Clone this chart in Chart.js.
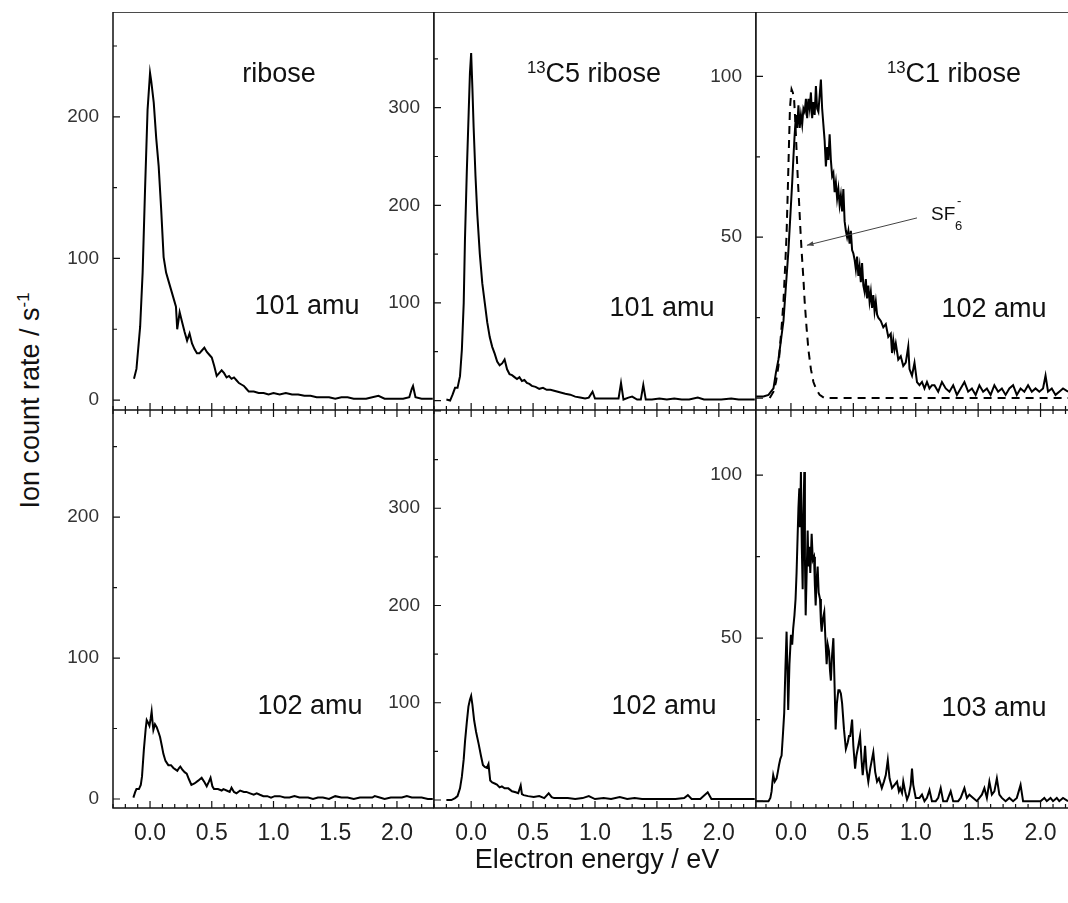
<!DOCTYPE html>
<html>
<head>
<meta charset="utf-8">
<title>Ion yield of ribose isotopologues</title>
<script src="https://cdn.jsdelivr.net/npm/chart.js@4.4.1/dist/chart.umd.min.js"></script>
<style>
  body { margin: 0; width: 1068px; height: 903px; overflow: hidden; position: relative; background: #fff;
         font-family: "Liberation Sans", Arial, sans-serif; }
  canvas { position: absolute; }
  .txt { position: absolute; white-space: nowrap; color: #111; line-height: 1; }
  .big { font-size: 27px; width: 200px; text-align: center; }
  sup { font-size: 0.62em; vertical-align: 0.55em; line-height: 0; }
</style>
</head>
<body>
<canvas id="pA"></canvas>
<canvas id="pB"></canvas>
<canvas id="pC"></canvas>
<canvas id="pD"></canvas>
<canvas id="pE"></canvas>
<canvas id="pF"></canvas>

<div class="txt big" style="left:179px;top:60px">ribose</div>
<div class="txt big" style="left:494px;top:60px"><sup>13</sup>C5 ribose</div>
<div class="txt big" style="left:854px;top:60px"><sup>13</sup>C1 ribose</div>
<div class="txt big" style="left:207px;top:292px">101 amu</div>
<div class="txt big" style="left:562px;top:294px">101 amu</div>
<div class="txt big" style="left:894px;top:295px">102 amu</div>
<div class="txt big" style="left:210px;top:692px">102 amu</div>
<div class="txt big" style="left:564px;top:692px">102 amu</div>
<div class="txt big" style="left:894px;top:694px">103 amu</div>

<div class="txt" style="left:931px;top:204px;font-size:19px">SF</div>
<div class="txt" style="left:955px;top:219px;font-size:13px">6</div>
<div class="txt" style="left:957px;top:194px;font-size:13px">-</div>

<div class="txt" style="left:397px;top:846px;width:400px;text-align:center;font-size:27px">Electron energy / eV</div>
<div class="txt" style="left:-120px;top:387px;width:300px;text-align:center;font-size:27px;transform:rotate(-90deg)">Ion count rate / s<sup>-1</sup></div>

<script>
// --- data: [electron energy (eV), ion count rate (1/s)] ---
const ribose101 = [
  [-0.13, 15], [-0.11, 22], [-0.08, 52], [-0.06, 90], [-0.04, 150], [-0.02, 205], [0.0, 231], [0.01, 225],
  [0.03, 210], [0.05, 185], [0.07, 165], [0.09, 135], [0.11, 101], [0.13, 90], [0.15, 84], [0.17, 78],
  [0.19, 72], [0.21, 66], [0.22, 50], [0.24, 62], [0.26, 55], [0.28, 48], [0.30, 42], [0.32, 47],
  [0.34, 40], [0.36, 36], [0.38, 33], [0.40, 33], [0.42, 35], [0.44, 37], [0.46, 34], [0.48, 32],
  [0.50, 30], [0.52, 24], [0.54, 17], [0.56, 19], [0.58, 21], [0.60, 19], [0.62, 16], [0.64, 17],
  [0.66, 15], [0.68, 16], [0.70, 14], [0.72, 12], [0.74, 11], [0.76, 10], [0.78, 8], [0.80, 6],
  [0.84, 6], [0.88, 5], [0.92, 5], [0.96, 4], [1.00, 5], [1.05, 4], [1.10, 5], [1.15, 4], [1.20, 4],
  [1.25, 3], [1.30, 3], [1.35, 2], [1.40, 2], [1.45, 2], [1.50, 1], [1.55, 2], [1.60, 2], [1.65, 1],
  [1.70, 1], [1.75, 1], [1.80, 2], [1.85, 3], [1.90, 1], [1.95, 1], [2.00, 1], [2.05, 1], [2.10, 2],
  [2.12, 8], [2.13, 10], [2.15, 2], [2.20, 1], [2.25, 1], [2.29, 1]
];
const c5ribose101 = [
  [-0.20, 1], [-0.17, 0], [-0.15, 6], [-0.13, 13], [-0.11, 13], [-0.09, 25], [-0.075, 52], [-0.06, 100],
  [-0.05, 165], [-0.035, 235], [-0.02, 295], [-0.01, 335], [0.0, 356], [0.01, 320], [0.02, 280],
  [0.035, 230], [0.05, 190], [0.07, 150], [0.09, 120], [0.11, 100], [0.13, 80], [0.15, 65], [0.17, 55],
  [0.19, 48], [0.21, 40], [0.23, 36], [0.25, 38], [0.27, 42], [0.29, 32], [0.31, 27], [0.33, 26],
  [0.35, 24], [0.37, 22], [0.39, 24], [0.41, 20], [0.43, 21], [0.45, 18], [0.47, 17], [0.49, 15],
  [0.52, 14], [0.55, 12], [0.58, 13], [0.61, 11], [0.64, 11], [0.67, 10], [0.70, 9], [0.73, 8],
  [0.76, 7], [0.80, 6], [0.84, 4], [0.88, 3], [0.92, 2], [0.95, 3], [0.98, 9], [1.00, 2], [1.05, 2],
  [1.10, 2], [1.15, 2], [1.19, 2], [1.21, 18], [1.23, 1], [1.27, 3], [1.30, 4], [1.34, 1], [1.37, 1],
  [1.39, 16], [1.41, 1], [1.46, 1], [1.52, 2], [1.58, 1], [1.64, 2], [1.70, 1], [1.76, 1], [1.83, 3],
  [1.88, 1], [1.95, 1], [2.02, 1], [2.10, 2], [2.16, 1], [2.22, 1], [2.29, 1]
];
const c1ribose102 = [
  [-0.28, 0.5], [-0.22, 0.5], [-0.18, 1], [-0.16, 2], [-0.14, 3], [-0.12, 8], [-0.10, 12], [-0.08, 18],
  [-0.06, 24], [-0.04, 35], [-0.02, 46], [0.0, 60], [0.01, 67], [0.02, 75], [0.03, 82], [0.04, 88],
  [0.05, 84], [0.06, 91], [0.07, 84], [0.08, 88], [0.09, 85], [0.10, 90], [0.11, 89], [0.12, 93],
  [0.13, 87], [0.14, 93], [0.15, 90], [0.16, 95], [0.17, 87], [0.18, 92], [0.19, 88], [0.20, 97],
  [0.21, 90], [0.22, 89], [0.23, 94], [0.24, 99], [0.25, 90], [0.26, 85], [0.27, 80], [0.28, 72],
  [0.29, 78], [0.30, 74], [0.31, 82], [0.32, 74], [0.33, 69], [0.34, 70], [0.35, 64], [0.36, 67],
  [0.37, 62], [0.38, 65], [0.39, 60], [0.40, 63], [0.41, 58], [0.42, 65], [0.43, 55], [0.44, 52],
  [0.45, 50], [0.46, 52], [0.47, 48], [0.48, 52], [0.49, 46], [0.50, 45], [0.51, 43], [0.52, 40],
  [0.53, 44], [0.54, 38], [0.55, 41], [0.56, 36], [0.57, 42], [0.58, 35], [0.59, 33], [0.60, 37],
  [0.61, 31], [0.62, 35], [0.63, 30], [0.64, 33], [0.65, 28], [0.66, 32], [0.67, 27], [0.68, 30],
  [0.69, 26], [0.70, 25], [0.72, 24], [0.74, 22], [0.76, 23], [0.78, 19], [0.80, 20], [0.81, 14],
  [0.82, 18], [0.83, 15], [0.84, 17], [0.86, 12], [0.88, 13], [0.90, 10], [0.92, 11], [0.94, 16],
  [0.95, 9], [0.96, 8], [0.97, 7], [0.99, 11], [1.01, 5], [1.03, 4], [1.05, 5], [1.07, 3], [1.09, 5],
  [1.11, 3], [1.13, 4], [1.15, 4], [1.18, 2], [1.21, 5], [1.24, 3], [1.27, 2], [1.30, 4], [1.33, 1],
  [1.36, 3], [1.39, 5], [1.42, 2], [1.45, 3], [1.48, 1], [1.51, 4], [1.54, 2], [1.57, 3], [1.60, 1],
  [1.63, 4], [1.66, 2], [1.69, 3], [1.72, 1], [1.75, 3], [1.78, 4], [1.81, 1], [1.84, 3], [1.87, 2],
  [1.90, 4], [1.93, 2], [1.96, 3], [1.99, 2], [2.02, 3], [2.04, 7], [2.06, 2], [2.09, 3], [2.12, 1],
  [2.15, 2], [2.18, 3], [2.22, 2]
];
const sf6Ref = [
  [-0.17, 0], [-0.14, 2], [-0.12, 5], [-0.10, 10], [-0.09, 15], [-0.075, 22], [-0.06, 30], [-0.045, 42],
  [-0.035, 51], [-0.025, 65], [-0.015, 80], [-0.008, 90], [0.0, 94], [0.005, 96], [0.015, 95],
  [0.025, 93], [0.035, 86], [0.045, 77], [0.055, 68], [0.065, 61], [0.075, 53], [0.085, 46],
  [0.10, 37], [0.11, 30], [0.125, 22], [0.14, 15], [0.16, 9], [0.18, 5], [0.20, 3], [0.23, 1],
  [0.27, 0], [0.5, 0], [1.0, 0], [1.5, 0], [2.0, 0], [2.22, 0]
];
const ribose102 = [
  [-0.135, 1], [-0.12, 5], [-0.11, 7], [-0.09, 7], [-0.075, 10], [-0.065, 16], [-0.05, 35], [-0.035, 50],
  [-0.027, 56], [-0.015, 54], [-0.005, 52], [0.005, 57], [0.013, 62], [0.02, 55], [0.027, 49],
  [0.04, 53], [0.054, 51], [0.07, 47], [0.081, 44], [0.095, 38], [0.108, 32], [0.125, 27], [0.148, 24],
  [0.17, 24], [0.189, 22], [0.205, 21], [0.221, 20], [0.235, 22], [0.245, 23], [0.26, 21], [0.28, 19],
  [0.297, 18], [0.315, 14], [0.335, 10], [0.36, 11], [0.39, 13], [0.418, 15], [0.44, 12], [0.459, 9],
  [0.475, 12], [0.49, 15], [0.505, 9], [0.518, 7], [0.55, 7], [0.58, 6], [0.594, 7], [0.62, 6],
  [0.645, 5], [0.66, 8], [0.68, 5], [0.70, 4], [0.73, 6], [0.76, 5], [0.78, 5], [0.81, 4], [0.84, 3],
  [0.864, 4], [0.89, 3], [0.918, 2], [0.95, 2], [0.98, 1], [1.01, 2], [1.05, 2], [1.09, 1], [1.13, 1],
  [1.17, 2], [1.21, 1], [1.24, 1], [1.28, 1], [1.32, 0], [1.36, 1], [1.40, 1], [1.45, 0], [1.50, 2],
  [1.55, 1], [1.60, 1], [1.65, 0], [1.70, 1], [1.75, 1], [1.80, 1], [1.82, 2], [1.86, 1], [1.90, 0],
  [1.95, 1], [2.00, 1], [2.04, 1], [2.08, 2], [2.12, 1], [2.16, 1], [2.20, 1], [2.25, 0], [2.29, 0]
];
const c5ribose102 = [
  [-0.20, 0], [-0.16, 0], [-0.13, 2], [-0.11, 4], [-0.09, 12], [-0.075, 24], [-0.06, 42], [-0.049, 61],
  [-0.035, 80], [-0.022, 96], [-0.01, 103], [0.0, 107], [0.01, 98], [0.024, 82], [0.04, 70], [0.06, 58],
  [0.08, 45], [0.095, 36], [0.11, 34], [0.127, 33], [0.14, 37], [0.154, 20], [0.17, 18], [0.19, 17],
  [0.208, 16], [0.23, 13], [0.248, 14], [0.27, 12], [0.30, 12], [0.33, 9], [0.36, 8], [0.38, 7],
  [0.40, 15], [0.41, 6], [0.424, 5], [0.46, 4], [0.505, 3], [0.55, 4], [0.59, 2], [0.626, 7], [0.65, 3],
  [0.67, 2], [0.72, 2], [0.78, 2], [0.84, 1], [0.90, 2], [0.95, 4], [1.00, 1], [1.07, 2], [1.13, 1],
  [1.20, 3], [1.26, 1], [1.32, 2], [1.38, 1], [1.45, 1], [1.52, 1], [1.58, 1], [1.65, 1], [1.72, 2],
  [1.75, 5], [1.78, 1], [1.85, 1], [1.91, 8], [1.94, 1], [2.00, 1], [2.08, 1], [2.15, 1], [2.22, 1],
  [2.29, 1]
];
const c1ribose103 = [
  [-0.28, 0], [-0.18, 0], [-0.165, 1], [-0.155, 3], [-0.148, 6], [-0.142, 8], [-0.13, 6], [-0.115, 7],
  [-0.105, 9], [-0.096, 11], [-0.085, 13], [-0.075, 14], [-0.065, 20], [-0.054, 27], [-0.045, 40],
  [-0.035, 52], [-0.028, 40], [-0.022, 28], [-0.012, 42], [0.0, 51], [0.01, 48], [0.018, 53],
  [0.028, 57], [0.037, 62], [0.045, 70], [0.054, 82], [0.06, 90], [0.067, 96], [0.072, 84], [0.08, 101],
  [0.087, 78], [0.094, 65], [0.10, 88], [0.107, 101], [0.112, 75], [0.118, 57], [0.126, 70], [0.134, 83],
  [0.14, 72], [0.147, 78], [0.155, 70], [0.166, 82], [0.175, 74], [0.185, 75], [0.192, 66], [0.198, 60],
  [0.206, 68], [0.214, 72], [0.222, 64], [0.233, 62], [0.24, 55], [0.246, 52], [0.256, 56], [0.267, 58],
  [0.276, 50], [0.286, 42], [0.295, 48], [0.305, 46], [0.313, 40], [0.32, 37], [0.328, 44], [0.34, 50],
  [0.35, 35], [0.358, 22], [0.368, 30], [0.38, 34], [0.39, 34], [0.40, 33], [0.41, 30], [0.425, 22],
  [0.44, 16], [0.455, 18], [0.465, 20], [0.475, 20], [0.49, 25], [0.50, 17], [0.514, 10], [0.525, 14],
  [0.54, 17], [0.554, 20], [0.565, 13], [0.575, 8], [0.585, 12], [0.594, 17], [0.605, 10], [0.62, 6],
  [0.635, 10], [0.66, 15], [0.675, 9], [0.69, 6], [0.705, 7], [0.728, 4], [0.745, 6], [0.76, 8],
  [0.776, 12.6], [0.79, 7], [0.81, 4], [0.83, 5], [0.85, 6], [0.865, 3], [0.875, 4], [0.89, 2.5],
  [0.90, 6], [0.915, 3], [0.93, 0.5], [0.945, 2], [0.96, 5], [0.97, 10], [0.98, 5], [1.0, 1], [1.03, 1],
  [1.05, 2], [1.07, 0], [1.09, 1], [1.11, 3.4], [1.13, 0], [1.16, 0], [1.18, 1], [1.20, 4], [1.22, 0],
  [1.25, 0], [1.28, 3], [1.30, 0], [1.34, 0], [1.36, 1], [1.39, 4], [1.41, 1], [1.43, 2], [1.46, 1],
  [1.49, 0], [1.51, 1], [1.53, 2], [1.55, 4], [1.57, 1], [1.59, 6], [1.61, 2], [1.63, 3], [1.65, 7],
  [1.67, 2], [1.69, 1], [1.72, 0], [1.75, 1], [1.78, 0], [1.81, 1], [1.84, 5], [1.86, 0], [1.90, 0],
  [1.95, 0], [2.00, 0], [2.03, 1], [2.05, 0], [2.08, 1], [2.10, 0], [2.13, 1], [2.15, 0], [2.18, 1],
  [2.22, 0]
];

// tick labels
const energyTicks = [0, 0.5, 1.0, 1.5, 2.0];
const yTicksRibose = [0, 100, 200];
const yTicksC5 = [100, 200, 300];
const yTicksC1 = [50, 100];

// arrow pointing at the SF6- reference curve (data units of panel C)
const sf6Arrow = { from: [1.01, 56], to: [0.128, 47.5] };

Chart.defaults.font.family = '"Liberation Sans", Arial, sans-serif';

// frame + inward tick marks, in the style of the original plot
const frameTicks = {
  id: 'frameTicks',
  afterDatasetsDraw(chart, args, o) {
    const { ctx, chartArea: a, scales: { x, y } } = chart;
    const steps = (min, max, minor, major) => {
      const out = [];
      for (let k = Math.ceil(min / minor - 1e-9); k * minor <= max + 1e-9; k++) {
        const v = k * minor;
        out.push({ v, major: Math.abs(v / major - Math.round(v / major)) < 1e-6 });
      }
      return out;
    };
    ctx.save();
    ctx.strokeStyle = '#111';
    ctx.lineWidth = 1.5;
    ctx.beginPath();
    ctx.moveTo(a.right, a.top); ctx.lineTo(a.left, a.top);
    ctx.lineTo(a.left, a.bottom); ctx.lineTo(a.right, a.bottom);
    if (o.rightEdge) ctx.lineTo(a.right, a.top);
    ctx.stroke();

    ctx.lineWidth = 1.2;
    ctx.beginPath();
    steps(x.min, x.max, 0.1, 0.5).forEach(t => {
      const px = x.getPixelForValue(t.v), len = t.major ? 7 : 4;
      ctx.moveTo(px, a.bottom); ctx.lineTo(px, a.bottom - len);
      if (o.topTicks) { ctx.moveTo(px, a.top); ctx.lineTo(px, a.top + len); }
    });
    steps(y.min, y.max, o.yMinor, o.yMinor * 2).forEach(t => {
      const py = y.getPixelForValue(t.v), len = t.major ? 7 : 4;
      ctx.moveTo(a.left, py); ctx.lineTo(a.left + len, py);
    });
    ctx.stroke();

    if (o.arrow) {
      const x0 = x.getPixelForValue(o.arrow.from[0]), y0 = y.getPixelForValue(o.arrow.from[1]);
      const x1 = x.getPixelForValue(o.arrow.to[0]), y1 = y.getPixelForValue(o.arrow.to[1]);
      const ang = Math.atan2(y1 - y0, x1 - x0);
      ctx.strokeStyle = '#444';
      ctx.fillStyle = '#444';
      ctx.lineWidth = 1;
      ctx.beginPath(); ctx.moveTo(x0, y0); ctx.lineTo(x1, y1); ctx.stroke();
      ctx.beginPath();
      ctx.moveTo(x1, y1);
      ctx.lineTo(x1 - 7 * Math.cos(ang - 0.35), y1 - 7 * Math.sin(ang - 0.35));
      ctx.lineTo(x1 - 7 * Math.cos(ang + 0.35), y1 - 7 * Math.sin(ang + 0.35));
      ctx.closePath(); ctx.fill();
    }
    ctx.restore();
  }
};

const toPts = arr => arr.map(([e, v]) => ({ x: e, y: v }));
const solid = arr => ({ data: toPts(arr), borderColor: '#000', borderWidth: 2, pointRadius: 0, tension: 0 });

// panel layout: plot-area box [left, top, right, bottom] in page pixels
const panels = [
  { id: 'pA', box: [113, 12, 434, 410], bottom: false, x: [-0.3, 2.3], y: [-7, 274], yTicks: yTicksRibose, yMinor: 50,
    sets: [solid(ribose101)] },
  { id: 'pB', box: [434, 12, 756, 410], bottom: false, x: [-0.3, 2.3], y: [-9.7, 398], yTicks: yTicksC5, yMinor: 50,
    sets: [solid(c5ribose101)] },
  { id: 'pC', box: [756, 12, 1068, 410], bottom: false, x: [-0.28, 2.22], y: [-3.7, 120], yTicks: yTicksC1, yMinor: 25,
    sets: [solid(c1ribose102), { ...solid(sf6Ref), borderDash: [8, 6] }], arrow: sf6Arrow, open: true },
  { id: 'pD', box: [113, 410, 434, 808], bottom: true, x: [-0.3, 2.3], y: [-6.4, 276], yTicks: yTicksRibose, yMinor: 50,
    sets: [solid(ribose102)] },
  { id: 'pE', box: [434, 410, 756, 808], bottom: true, x: [-0.3, 2.3], y: [-8.2, 401], yTicks: yTicksC5, yMinor: 50,
    sets: [solid(c5ribose102)] },
  { id: 'pF', box: [756, 410, 1068, 808], bottom: true, x: [-0.28, 2.22], y: [-2.1, 120], yTicks: yTicksC1, yMinor: 25,
    sets: [solid(c1ribose103)], open: true }
];

const Y_GUTTER = 60, X_GUTTER = 60;

panels.forEach(p => {
  const [l, t, r, b] = p.box;
  const cv = document.getElementById(p.id);
  cv.width = (r - l) + Y_GUTTER;
  cv.height = (b - t) + (p.bottom ? X_GUTTER : 0);
  cv.style.left = (l - Y_GUTTER) + 'px';
  cv.style.top = t + 'px';

  new Chart(cv, {
    type: 'line',
    data: { datasets: p.sets },
    plugins: [frameTicks],
    options: {
      responsive: false,
      animation: false,
      layout: { padding: 0 },
      plugins: {
        legend: { display: false },
        tooltip: { enabled: false },
        frameTicks: { yMinor: p.yMinor, topTicks: p.bottom, rightEdge: !p.open, arrow: p.arrow }
      },
      scales: {
        x: {
          type: 'linear', min: p.x[0], max: p.x[1],
          grid: { display: false }, border: { display: false },
          ticks: { display: p.bottom, color: '#222', font: { size: 23 }, padding: 4, maxRotation: 0,
                   callback: v => v.toFixed(1) },
          afterBuildTicks: s => { s.ticks = energyTicks.map(v => ({ value: v })); },
          afterFit: s => { s.height = p.bottom ? X_GUTTER : 0; s.paddingLeft = 0; s.paddingRight = 0; }
        },
        y: {
          min: p.y[0], max: p.y[1],
          grid: { display: false }, border: { display: false },
          ticks: { color: '#333', font: { size: 19 }, padding: 6, callback: v => String(v) },
          afterBuildTicks: s => { s.ticks = p.yTicks.map(v => ({ value: v })); },
          afterFit: s => { s.width = Y_GUTTER; s.paddingTop = 0; s.paddingBottom = 0; }
        }
      }
    }
  });
});
</script>
</body>
</html>
